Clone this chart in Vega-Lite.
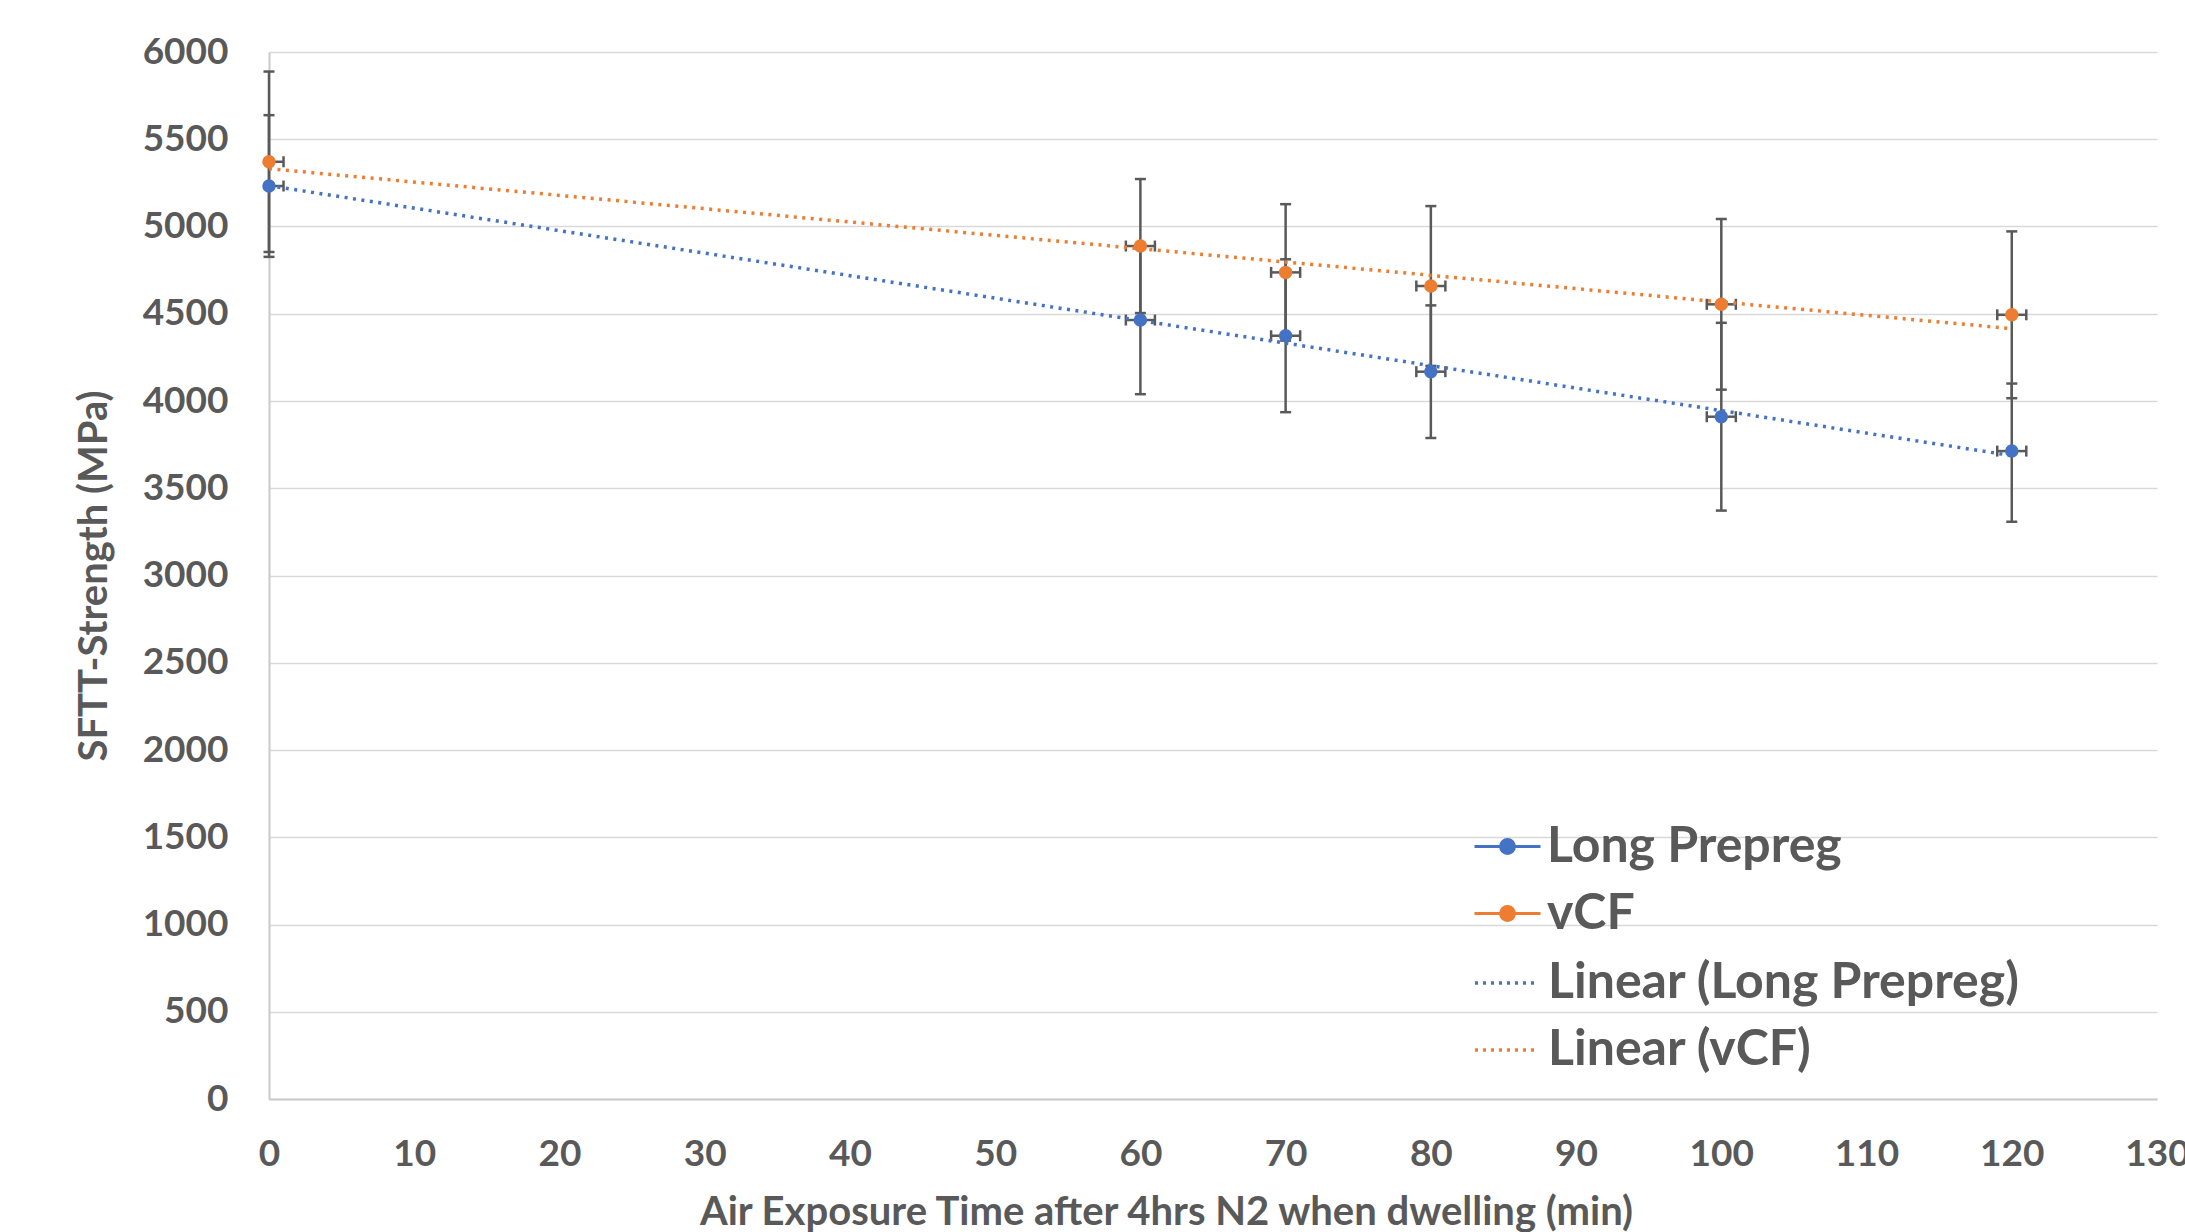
{
  "$schema": "https://vega.github.io/schema/vega-lite/v6.json",
  "width": 1888,
  "height": 1047,
  "autosize": {"type": "none"},
  "padding": {"left": 269, "top": 52, "right": 28, "bottom": 133},
  "background": "white",
  "config": {
    "font": "Lato",
    "view": {"stroke": null},
    "axis": {
      "labelFont": "Lato", "labelFontSize": 37, "labelFontWeight": "bold", "labelColor": "#595959",
      "titleFont": "Lato", "titleFontSize": 40, "titleFontWeight": "bold", "titleColor": "#595959",
      "ticks": false, "domainColor": "#c9c9c9", "domainWidth": 2, "gridColor": "#d9d9d9", "gridWidth": 1.7
    },
    "legend": {
      "labelFont": "Lato", "labelFontSize": 50, "labelFontWeight": "bold", "labelColor": "#595959",
      "labelOffset": 8, "symbolSize": 3600, "symbolStrokeWidth": 3, "rowPadding": 10, "labelLimit": 900,
      "orient": "none"
    }
  },
  "data": {
    "values": [
      {"series": "Long Prepreg", "trend": "Linear (Long Prepreg)", "time": 0, "strength": 5232, "lo": 4826, "hi": 5638, "tlo": -1, "thi": 1},
      {"series": "Long Prepreg", "trend": "Linear (Long Prepreg)", "time": 60, "strength": 4464, "lo": 4039, "hi": 4889, "tlo": 59, "thi": 61},
      {"series": "Long Prepreg", "trend": "Linear (Long Prepreg)", "time": 70, "strength": 4374, "lo": 3936, "hi": 4812, "tlo": 69, "thi": 71},
      {"series": "Long Prepreg", "trend": "Linear (Long Prepreg)", "time": 80, "strength": 4168, "lo": 3788, "hi": 4548, "tlo": 79, "thi": 81},
      {"series": "Long Prepreg", "trend": "Linear (Long Prepreg)", "time": 100, "strength": 3910, "lo": 3372, "hi": 4448, "tlo": 99, "thi": 101},
      {"series": "Long Prepreg", "trend": "Linear (Long Prepreg)", "time": 120, "strength": 3713, "lo": 3308, "hi": 4100, "tlo": 119, "thi": 121},
      {"series": "vCF", "trend": "Linear (vCF)", "time": 0, "strength": 5371, "lo": 4854, "hi": 5888, "tlo": -1, "thi": 1},
      {"series": "vCF", "trend": "Linear (vCF)", "time": 60, "strength": 4888, "lo": 4504, "hi": 5272, "tlo": 59, "thi": 61},
      {"series": "vCF", "trend": "Linear (vCF)", "time": 70, "strength": 4737, "lo": 4346, "hi": 5128, "tlo": 69, "thi": 71},
      {"series": "vCF", "trend": "Linear (vCF)", "time": 80, "strength": 4659, "lo": 4201, "hi": 5117, "tlo": 79, "thi": 81},
      {"series": "vCF", "trend": "Linear (vCF)", "time": 100, "strength": 4554, "lo": 4065, "hi": 5043, "tlo": 99, "thi": 101},
      {"series": "vCF", "trend": "Linear (vCF)", "time": 120, "strength": 4494, "lo": 4016, "hi": 4972, "tlo": 119, "thi": 121}
    ]
  },
  "encoding": {
    "x": {
      "type": "quantitative",
      "scale": {"domain": [0, 130], "nice": false, "zero": false},
      "axis": {
        "title": "Air Exposure Time after 4hrs N2 when dwelling (min)",
        "values": [0, 10, 20, 30, 40, 50, 60, 70, 80, 90, 100, 110, 120, 130],
        "grid": false, "labelFlush": false, "labelPadding": 37, "titlePadding": 20, "titleX": 897, "titleAnchor": "middle"
      }
    },
    "y": {
      "type": "quantitative",
      "scale": {"domain": [0, 6000], "nice": false},
      "axis": {
        "title": "SFTT-Strength (MPa)",
        "values": [0, 500, 1000, 1500, 2000, 2500, 3000, 3500, 4000, 4500, 5000, 5500, 6000],
        "format": "d", "grid": true, "labelFlush": false, "labelPadding": 41, "titlePadding": 28
      }
    }
  },
  "layer": [
    {
      "mark": {"type": "rule", "color": "#595959", "strokeWidth": 2.5},
      "encoding": {"x": {"field": "time"}, "y": {"field": "lo"}, "y2": {"field": "hi"}}
    },
    {
      "mark": {"type": "tick", "orient": "horizontal", "color": "#595959", "size": 11, "thickness": 2.5, "opacity": 1},
      "encoding": {"x": {"field": "time"}, "y": {"field": "lo"}}
    },
    {
      "mark": {"type": "tick", "orient": "horizontal", "color": "#595959", "size": 11, "thickness": 2.5, "opacity": 1},
      "encoding": {"x": {"field": "time"}, "y": {"field": "hi"}}
    },
    {
      "mark": {"type": "rule", "color": "#595959", "strokeWidth": 2.5, "clip": true},
      "encoding": {"x": {"field": "tlo"}, "x2": {"field": "thi"}, "y": {"field": "strength"}}
    },
    {
      "mark": {"type": "tick", "orient": "vertical", "color": "#595959", "size": 11, "thickness": 2.5, "opacity": 1, "clip": true},
      "encoding": {"x": {"field": "tlo"}, "y": {"field": "strength"}}
    },
    {
      "mark": {"type": "tick", "orient": "vertical", "color": "#595959", "size": 11, "thickness": 2.5, "opacity": 1, "clip": true},
      "encoding": {"x": {"field": "thi"}, "y": {"field": "strength"}}
    },
    {
      "mark": {"type": "point", "shape": "circle", "filled": true, "size": 110, "strokeWidth": 3, "opacity": 1},
      "encoding": {
        "x": {"field": "time"},
        "y": {"field": "strength"},
        "fill": {
          "field": "series", "type": "nominal",
          "scale": {"domain": ["Long Prepreg", "vCF"], "range": ["#4472C4", "#ED7D31"]},
          "legend": {
            "title": null, "orient": "none", "legendX": 1207, "legendY": 763,
            "symbolType": "M-1.1,0L1.1,0M-0.23,0A0.23,0.23,0,1,1,0.23,0A0.23,0.23,0,1,1,-0.23,0Z"
          }
        },
        "stroke": {
          "field": "series", "type": "nominal",
          "scale": {"domain": ["Long Prepreg", "vCF"], "range": ["#4472C4", "#ED7D31"]},
          "legend": {
            "title": null, "orient": "none", "legendX": 1207, "legendY": 763,
            "symbolType": "M-1.1,0L1.1,0M-0.23,0A0.23,0.23,0,1,1,0.23,0A0.23,0.23,0,1,1,-0.23,0Z"
          }
        }
      }
    },
    {
      "transform": [
        {"regression": "strength", "on": "time", "groupby": ["trend"], "method": "linear", "extent": [0, 120]}
      ],
      "mark": {"type": "line", "strokeDash": [3, 5.5], "strokeWidth": 3.5},
      "encoding": {
        "x": {"field": "time"},
        "y": {"field": "strength"},
        "color": {
          "field": "trend", "type": "nominal",
          "scale": {"domain": ["Linear (Long Prepreg)", "Linear (vCF)"], "range": ["#4472C4", "#ED7D31"]},
          "legend": {
            "title": null, "orient": "none", "legendX": 1207, "legendY": 899,
            "symbolType": "M-1.1,0L1.0,0", "symbolDash": [3, 5], "symbolStrokeWidth": 3.5
          }
        }
      }
    }
  ]
}
